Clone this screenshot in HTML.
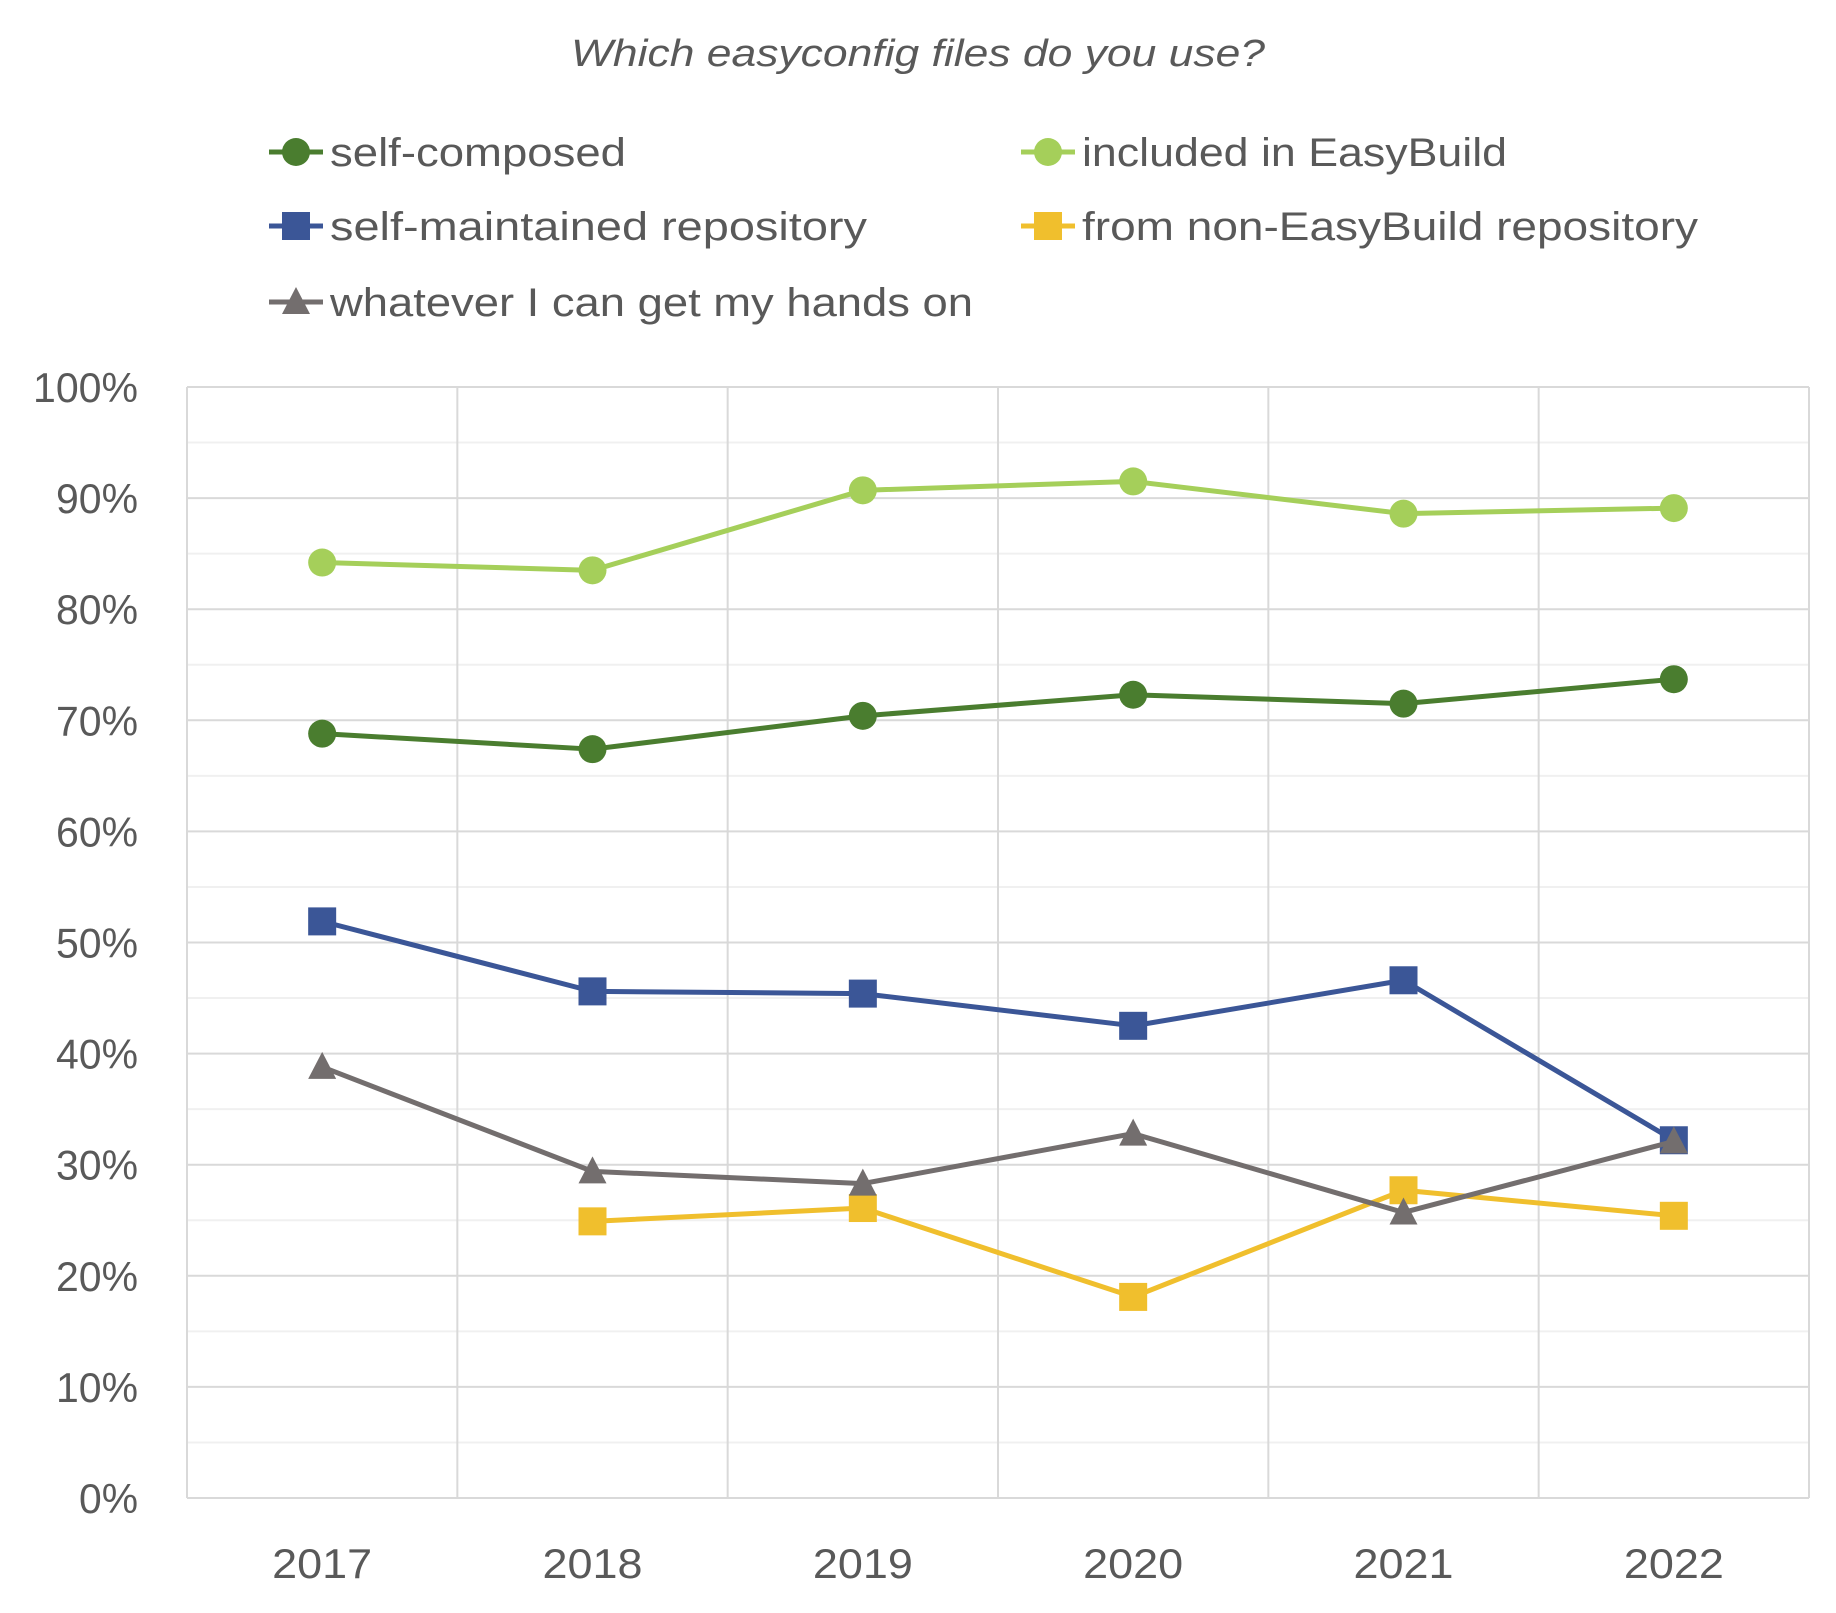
<!DOCTYPE html>
<html><head><meta charset="utf-8"><style>
html,body{margin:0;padding:0;background:#fff}
svg{display:block;font-family:"Liberation Sans",sans-serif}
</style></head><body>
<svg id="chart" width="1836" height="1613" viewBox="0 0 1836 1613" xmlns="http://www.w3.org/2000/svg">
<text x="918" y="66" text-anchor="middle" font-size="38" font-style="italic" fill="#595959" textLength="694" lengthAdjust="spacingAndGlyphs">Which easyconfig files do you use?</text>
<g id="grid"></g>
<g id="axes"></g>
<g id="series"></g>
<g id="legend"></g>
</svg>
<script>
const categories = ["2017","2018","2019","2020","2021","2022"];
const yTicks = [0,10,20,30,40,50,60,70,80,90,100];
const selfComposed = [68.8,67.4,70.4,72.3,71.5,73.7];
const includedEB = [84.2,83.5,90.7,91.5,88.6,89.1];
const selfMaintained = [51.9,45.6,45.4,42.5,46.6,32.2];
const nonEB = [null,24.9,26.1,18.1,27.7,25.4];
const whatever = [38.8,29.4,28.3,32.8,25.7,32.1];
const seriesNames = ["self-composed","included in EasyBuild","self-maintained repository","from non-EasyBuild repository","whatever I can get my hands on"];

const NS="http://www.w3.org/2000/svg";
const L=187,R=1809,T=387,B=1498;
const bw=(R-L)/categories.length;
const x=i=>L+bw*(i+0.5);
const y=v=>B-(v/100)*(B-T);
function mk(tag,attrs,parent){const e=document.createElementNS(NS,tag);for(const k in attrs)e.setAttribute(k,attrs[k]);parent.appendChild(e);return e;}
const grid=document.getElementById('grid'),axes=document.getElementById('axes'),sg=document.getElementById('series'),lg=document.getElementById('legend');
for(let v=5;v<100;v+=10){const l=mk('line',{x1:L,x2:R,y1:y(v),y2:y(v),stroke:'#f0f0f0','stroke-width':2},grid);

}
yTicks.forEach(v=>{const l=mk('line',{x1:L,x2:R,y1:y(v),y2:y(v),stroke:'#d9d9d9','stroke-width':2},grid);


const lbl=v+'%';
const w=lbl.length===4?105:(lbl.length===3?82:59);
const t=mk('text',{x:138,y:y(v)+15,'text-anchor':'end','font-size':42,fill:'#595959',textLength:w,lengthAdjust:'spacingAndGlyphs'},axes);
t.textContent=lbl;

});
for(let i=0;i<=categories.length;i++){const l=mk('line',{x1:L+bw*i,x2:L+bw*i,y1:T,y2:B,stroke:'#d9d9d9','stroke-width':2},grid);

}
categories.forEach((c,i)=>{const t=mk('text',{x:x(i),y:1578,'text-anchor':'middle','font-size':42,fill:'#595959',textLength:100,lengthAdjust:'spacingAndGlyphs'},axes);
t.textContent=c;

});

function marker(shape,cx,cy,color,parent,s){
  let e;
  if(shape==='circle')e=mk('circle',{cx:cx,cy:cy,r:14*s,fill:color},parent);
  else if(shape==='square')e=mk('rect',{x:cx-14*s,y:cy-14*s,width:28*s,height:28*s,fill:color},parent);
  else e=mk('polygon',{points:`${cx},${cy-15*s} ${cx+14*s},${cy+12*s} ${cx-14*s},${cy+12*s}`,fill:color},parent);
  return e;
}
const defs=[
 {d:selfComposed,c:'#4a7d2f',m:'circle',lx:296,ly:152,w:296},
 {d:includedEB,c:'#a5cf5a',m:'circle',lx:1048,ly:152,w:425},
 {d:selfMaintained,c:'#3b5697',m:'square',lx:296,ly:226,w:537},
 {d:nonEB,c:'#f0bf2d',m:'square',lx:1048,ly:226,w:616},
 {d:whatever,c:'#736e6e',m:'triangle',lx:296,ly:302,w:643}
];
defs.forEach((s,si)=>{
  const g=mk('g',{},sg);
  
  
  let pts=[];s.d.forEach((v,i)=>{if(v!==null)pts.push(x(i)+','+y(v));});
  const pl=mk('polyline',{points:pts.join(' '),fill:'none',stroke:s.c,'stroke-width':5,'stroke-linejoin':'round'},g);
  
  
  s.d.forEach((v,i)=>{if(v===null)return;const m=marker(s.m,x(i),y(v),s.c,g,1);
    
    });
  const le=mk('g',{},lg);
  
  
  mk('line',{x1:s.lx-27,x2:s.lx+27,y1:s.ly,y2:s.ly,stroke:s.c,'stroke-width':5},le);
  marker(s.m,s.lx,s.ly,s.c,le,1);
  const t=mk('text',{x:s.lx+34,y:s.ly+14,'font-size':40,fill:'#595959',textLength:s.w,lengthAdjust:'spacingAndGlyphs'},le);
  t.textContent=seriesNames[si];
});
</script>
</body></html>
